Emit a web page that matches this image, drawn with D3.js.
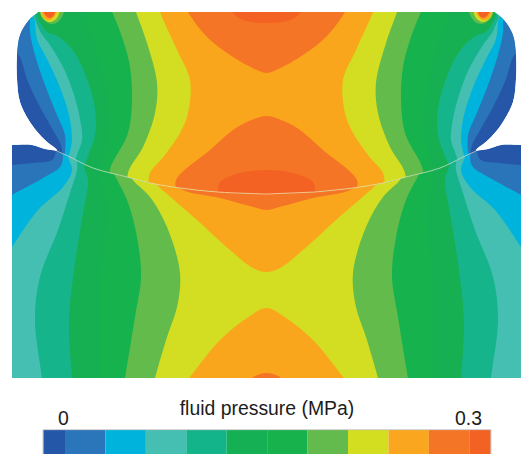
<!DOCTYPE html>
<html><head><meta charset="utf-8">
<script src="https://cdn.jsdelivr.net/npm/d3@7/dist/d3.min.js"></script>
<style>html,body{margin:0;padding:0;background:#fff}svg{display:block}text{font-family:"Liberation Sans",Arial,sans-serif;fill:#1c1c1c}</style>
</head><body><div id="chart"></div>
<script>
// Pressure scale
const levelColors = ["#2557a8","#2b75ba","#00b3dc","#44bfb2","#14b48a","#14b053","#18b24d","#62bb4c","#d3de20","#faa61e","#f47525","#f36223"];
const pressureMax = 0.3;
const tickValues = [0, 0.3];
const tickLabels = ["0", "0.3"];
const title = "fluid pressure (MPa)";

// Geometry, left half (mirrored about the symmetry axis)
const upperOutline = [[39,12],[29,20],[20,35],[17,55],[17,79],[20,102],[32,125],[45,140],[57,150]];
const contactCurve = [[57,151],[70,157],[93,168],[127,177],[150,183],[180,188],[218,192],[266.5,194]];
const lowerTopEdge = [[0,145],[12,145],[32,145],[45,149],[57,151]];

// Contour levels, upper body: "pressure >= level" boundaries
const u1 = [[5,0],[5,30],[14,50],[20,57],[27,79],[39,105],[54,132],[61,145],[63,160],[63,170]];
const u2 = [[30,0],[30,20],[30,32],[35,55],[45,85],[57,115],[65,135],[65,152],[64,165]];
const u3 = [[33,5],[35,22],[37,39],[47,59],[59,85],[69,115],[72,139],[70,152],[68,165]];
const u4 = [[36,5],[39,29],[50,45],[64,69],[74,95],[80,119],[82,140],[77,155],[74,170]];
const u5 = [[38,5],[45,30],[59,37],[74,52],[87,79],[95,109],[95,135],[87,159],[83,172]];
const u6 = [[88,5],[97,50],[106,90],[109,125],[103,160],[98,180]];
const u7 = [[108,5],[112,12],[123,40],[130,67],[132,100],[128,133],[110,170],[112,182]];
const u8 = [[134,5],[136,12],[147,43],[157,83],[155,113],[143,147],[128,173],[130,185]];
const u9 = [[158,5],[160,12],[177,50],[190,80],[188,113],[180,133],[165,155],[149,176],[155,195]];
const u10a = [[185,5],[188,12],[207,37],[233,57],[257,70],[266.5,73]];
const u10b = [[266.5,116],[247,122],[233,130],[210,150],[176,180],[177,190],[185,200]];
const u11a = [[230,5],[232,12],[243,20],[266.5,23]];
const u11b = [[266.5,170],[240,173],[220,182],[218,192],[220,200]];

// Contour levels, lower body
const l1 = [[57,140],[56,152],[52,160],[33,163],[12,165],[0,166],[0,390]];
const l2 = [[62,145],[63,158],[60,167],[43,178],[12,195],[0,203],[0,390]];
const l3 = [[66,145],[68,157],[72,170],[63,187],[38,210],[12,247],[0,265],[0,390]];
const l4 = [[75,150],[77,162],[77,170],[70,193],[58,230],[40,277],[35,320],[42,378],[43,390]];
const l5 = [[82,155],[84,167],[88,180],[83,213],[75,263],[69,320],[72,378],[73,390]];
const l6 = [[105,165],[107,213],[100,280],[100,378],[100,390]];
const l7 = [[110,165],[115,176],[127,200],[137,237],[141,277],[135,317],[125,378],[123,390]];
const l8 = [[128,170],[133,180],[150,197],[167,227],[180,273],[177,307],[167,337],[155,378],[152,390]];
const l9a = [[148,172],[157,185],[167,194],[197,220],[230,250],[253,268],[266.5,272]];
const l9b = [[266.5,308],[247,318],[220,340],[190,377],[180,390]];
const l10a = [[170,178],[183,190],[220,198],[257,208],[266.5,210]];
const l10b = [[266.5,373],[260,374],[252,378],[245,390]];

// Hot spot at the top corner: closed contours
const h7 = [[40,8],[42,18],[51,24],[59,21],[64,8]];
const h8 = [[41,8],[43,18],[50,22],[57,18],[59,8]];
const h9 = [[42,8],[44,18],[50,20],[55,16],[57,8]];
const h11 = [[43,8],[46,16],[50,18],[54,15],[55,8]];

const upperBands = [[1,u1],[2,u2],[3,u3],[4,u4],[5,u5],[6,u6],[7,u7],[8,u8],[9,u9],[10,u10a],[10,u10b],[11,u11a],[11,u11b]];
const lowerBands = [[1,l1],[2,l2],[3,l3],[4,l4],[5,l5],[6,l6],[7,l7],[8,l8],[9,l9a],[9,l9b],[10,l10a],[10,l10b]];
const hotBands = [[7,h7],[8,h8],[9,h9],[11,h11]];

const W = 522, H = 454;
const x = d3.scaleLinear().domain([12,521]).range([12,521]);
const y = d3.scaleLinear().domain([12,378]).range([12,378]);
const mirrorX = v => 533 - v;
const mirror = pts => pts.slice().reverse().filter(p => p[0] !== 266.5).map(p => [mirrorX(p[0]), p[1]]);
const smooth = d3.line().x(p => x(p[0])).y(p => y(p[1])).curve(d3.curveCatmullRomClosed.alpha(0.5));
const ring = half => smooth(half.concat(mirror(half)));
const open = d3.line().x(p => x(p[0])).y(p => y(p[1])).curve(d3.curveCatmullRom.alpha(0.5));

const svg = d3.select("#chart").append("svg").attr("width",W).attr("height",H);
const defs = svg.append("defs");
defs.append("filter").attr("id","soft").attr("x","-5%").attr("y","-5%").attr("width","110%").attr("height","110%")
  .append("feGaussianBlur").attr("stdDeviation",0.55);

const upperLeft = upperOutline.concat(contactCurve);
const upperShape = open(upperLeft) + open(mirror(upperLeft)).replace(/^M/,"L") + "Z";
const lowerLeft = lowerTopEdge.concat(contactCurve.slice(1));
const lowerShape = open(lowerLeft) + open(mirror(lowerLeft)).replace(/^M/,"L")
  + "L" + x(533) + "," + y(378) + "L" + x(0) + "," + y(378) + "Z";
defs.append("clipPath").attr("id","clipU").append("path").attr("d",upperShape);
defs.append("clipPath").attr("id","clipL").append("path").attr("d",lowerShape);
defs.append("clipPath").attr("id","clipP").append("rect").attr("x",x(12)).attr("y",y(12)).attr("width",x(521)-x(12)).attr("height",y(378)-y(12));

const plot = svg.append("g").attr("filter","url(#soft)").append("g").attr("clip-path","url(#clipP)");
const lower = plot.append("g").attr("clip-path","url(#clipL)");
lower.append("path").attr("d",lowerShape).attr("fill",levelColors[0]);
lower.selectAll("path.band").data(lowerBands).join("path").attr("class","band")
  .attr("fill",d=>levelColors[d[0]]).attr("d",d=>ring(d[1]));
const upper = plot.append("g").attr("clip-path","url(#clipU)");
upper.append("path").attr("d",upperShape).attr("fill",levelColors[0]);
upper.selectAll("path.band").data(upperBands).join("path").attr("class","band")
  .attr("fill",d=>levelColors[d[0]]).attr("d",d=>ring(d[1]));
upper.selectAll("path.hotL").data(hotBands).join("path").attr("class","hotL")
  .attr("fill",d=>levelColors[d[0]]).attr("d",d=>smooth(d[1]));
upper.selectAll("path.hotR").data(hotBands).join("path").attr("class","hotR")
  .attr("fill",d=>levelColors[d[0]]).attr("d",d=>smooth(d[1].map(p=>[mirrorX(p[0]),p[1]])));
plot.append("path").attr("fill","none").attr("stroke","#f6eccb").attr("stroke-opacity",0.7).attr("stroke-width",0.9)
  .attr("d",open(contactCurve)+open(mirror(contactCurve)).replace(/^M/,"L"));

// Colour bar
const nSteps = levelColors.length - 2;
const bar = d3.scaleLinear().domain([0,pressureMax]).range([65,469.3]);
const step = pressureMax/nSteps;
const barTop = 430, barBottom = 454, barStart = 43.3, barEnd = 490.7;
const segLeft = k => k===0 ? barStart : bar((k-1)*step);
const segRight = k => k===levelColors.length-1 ? barEnd : bar(k*step);
const gBar = svg.append("g");
gBar.selectAll("rect").data(d3.range(levelColors.length)).join("rect")
  .attr("x",segLeft).attr("y",barTop).attr("width",k=>segRight(k)-segLeft(k))
  .attr("height",barBottom-barTop).attr("fill",k=>levelColors[k]);
gBar.append("path").attr("fill","none").attr("stroke","#bdbdbd").attr("stroke-width",0.8)
  .attr("d",`M43,${barBottom}V${barTop-0.3}H491V${barBottom}`);

svg.append("text").attr("x",267).attr("y",415).attr("text-anchor","middle").attr("font-size",19.4).text(title);
svg.selectAll("text.tick").data(tickValues).join("text").attr("class","tick")
  .attr("x",(d,i)=>i===0?63.5:468.5).attr("y",425).attr("text-anchor","middle").attr("font-size",19.4)
  .text((d,i)=>tickLabels[i]);
</script></body></html>
